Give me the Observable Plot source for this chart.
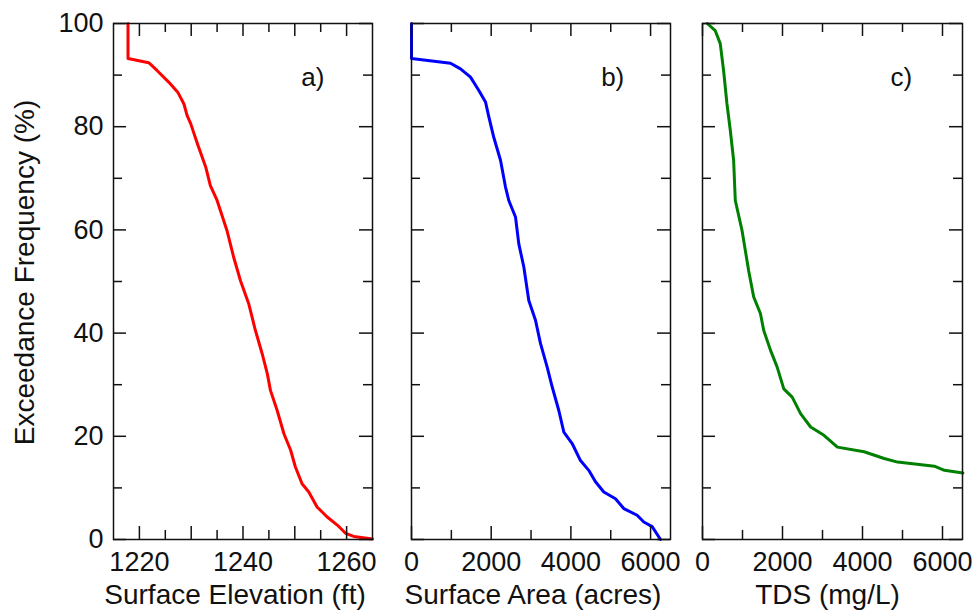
<!DOCTYPE html>
<html>
<head>
<meta charset="utf-8">
<script src="https://cdn.jsdelivr.net/npm/d3@7"></script>
<script src="https://cdn.jsdelivr.net/npm/@observablehq/plot@0.6"></script>
<style>
  body { margin: 0; background: #fff; }
  #chart { position: relative; width: 976px; height: 616px; font-family: "Liberation Sans", Arial, sans-serif; }
  #chart > div, #chart > svg { position: absolute; top: 0; }
</style>
</head>
<body>
<div id="chart"></div>
<script>
// ---- Data ----
// Panel a: Surface Elevation (ft) vs Exceedance Frequency (%)
const elevX = [1217.8, 1217.8, 1221.8, 1223.4, 1225.7, 1227.4, 1228.6, 1229.2, 1229.9, 1231.2, 1232.8, 1233.7, 1235.0, 1236.9, 1238.2, 1239.5, 1241.1, 1242.4, 1243.7, 1244.7, 1245.3, 1246.6, 1247.9, 1249.2, 1250.1, 1251.4, 1252.7, 1254.3, 1256.2, 1258.2, 1259.8, 1261.4, 1265];
const elevY = [100, 93.2, 92.4, 90.9, 88.6, 86.7, 84.4, 82.2, 80.6, 76.7, 72.2, 68.6, 65.7, 59.9, 54.7, 50.2, 45.7, 40.5, 36.0, 32.1, 28.9, 25.0, 20.5, 17.3, 14.1, 10.8, 9.2, 6.3, 4.4, 2.8, 1.2, 0.6, 0.1];
// Panel b: Surface Area (acres)
const areaX = [0, 0, 979, 1230, 1481, 1690, 1857, 1941, 2066, 2234, 2359, 2442, 2610, 2693, 2819, 2944, 3112, 3237, 3405, 3530, 3697, 3823, 4032, 4241, 4449, 4617, 4826, 5119, 5328, 5663, 5830, 6040, 6249];
const areaY = [100, 93.2, 92.3, 91.2, 89.6, 87.0, 84.8, 81.9, 77.9, 73.5, 68.3, 65.7, 62.5, 57.3, 52.8, 46.3, 42.5, 38.0, 33.4, 29.6, 25.0, 20.8, 18.6, 15.3, 13.4, 11.2, 9.2, 7.9, 6.0, 4.7, 3.4, 2.5, 0];
// Panel c: TDS (mg/L)
const tdsX = [120, 319, 444, 527, 612, 695, 778, 820, 988, 1154, 1280, 1448, 1531, 1699, 1867, 2032, 2243, 2452, 2703, 3037, 3373, 4040, 4542, 4877, 5797, 6048, 6510];
const tdsY = [100, 98.6, 96.1, 90.9, 84.4, 79.3, 73.5, 65.7, 59.9, 52.1, 47.0, 43.8, 40.5, 36.7, 33.4, 29.2, 27.6, 24.4, 21.8, 20.2, 17.9, 17.0, 15.7, 15.0, 14.2, 13.4, 12.9];

// Ticks
const yMajor = [0, 20, 40, 60, 80, 100];
const yMinor = [10, 30, 50, 70, 90];
const elevMajor = [1220, 1230, 1240, 1250, 1260];
const elevLabels = [1220, 1240, 1260];
const elevMinor = [1225, 1235, 1245, 1255];
const acreMajor = [0, 2000, 4000, 6000];
const acreMinor = [1000, 3000, 5000];

const FONT = '"Liberation Sans", Arial, sans-serif';
const TOP = 23, BOTTOM = 77, H = 616;
const FH = H - TOP - BOTTOM; // frame height
const MAJ = 13, MIN = 9;

function panel({left, width, ml, mr, xDomain, xs, ys, color, xMajor, xMinor, xLabels, title, titleDx, tag, tagX, showY}) {
  const fw = width - ml - mr;
  const data = xs.map((x, i) => ({x, y: ys[i]}));
  const marks = [
    Plot.line(data, {x: "x", y: "y", stroke: color, strokeWidth: 3, strokeLinejoin: "round"}),
    // inward ticks, x bottom/top
    Plot.tickX(xMajor, {x: d => d, stroke: "#111", strokeWidth: 1.5, insetTop: FH - MAJ}),
    Plot.tickX(xMajor, {x: d => d, stroke: "#111", strokeWidth: 1.5, insetBottom: FH - MAJ}),
    Plot.tickX(xMinor, {x: d => d, stroke: "#111", strokeWidth: 1.5, insetTop: FH - MIN}),
    Plot.tickX(xMinor, {x: d => d, stroke: "#111", strokeWidth: 1.5, insetBottom: FH - MIN}),
    // inward ticks, y left/right
    Plot.tickY(yMajor, {y: d => d, stroke: "#111", strokeWidth: 1.5, insetRight: fw - MAJ}),
    Plot.tickY(yMajor, {y: d => d, stroke: "#111", strokeWidth: 1.5, insetLeft: fw - MAJ}),
    Plot.tickY(yMinor, {y: d => d, stroke: "#111", strokeWidth: 1.5, insetRight: fw - MIN}),
    Plot.tickY(yMinor, {y: d => d, stroke: "#111", strokeWidth: 1.5, insetLeft: fw - MIN}),
    Plot.frame({stroke: "#111", strokeWidth: 1.5}),
    Plot.axisX(xLabels, {anchor: "bottom", tickSize: 0, tickPadding: 12, fontSize: 27, label: null, tickFormat: d => String(d), fill: "#111"}),
    Plot.text([title], {frameAnchor: "bottom", textAnchor: "middle", dy: 64, dx: titleDx, fontSize: 28, fill: "#111"}),
    Plot.text([tag], {x: tagX, y: 89.5, fontSize: 26, fill: "#111"})
  ];
  if (showY) {
    marks.push(Plot.axisY(yMajor, {anchor: "left", tickSize: 0, tickPadding: 10, fontSize: 27, label: null, fill: "#111"}));
    marks.push(Plot.text(["Exceedance Frequency (%)"], {frameAnchor: "left", textAnchor: "middle", rotate: -90, dx: -88, dy: -9, fontSize: 28, fill: "#111"}));
  }
  const svg = Plot.plot({
    width, height: H,
    marginLeft: ml, marginRight: mr, marginTop: TOP, marginBottom: BOTTOM,
    style: {fontFamily: FONT, background: "transparent", overflow: "visible"},
    x: {domain: xDomain, axis: null},
    y: {domain: [0, 100], axis: null},
    marks
  });
  svg.style.left = left + "px";
  return svg;
}

const chart = document.getElementById("chart");
chart.append(panel({left: 0, width: 380, ml: 113, mr: 8, xDomain: [1215, 1265], xs: elevX, ys: elevY, color: "#ff0000",
  xMajor: elevMajor, xMinor: elevMinor, xLabels: elevLabels, title: "Surface Elevation (ft)", titleDx: -8, tag: "a)", tagX: 1253.5, showY: true}));
chart.append(panel({left: 380, width: 300, ml: 31, mr: 10, xDomain: [0, 6500], xs: areaX, ys: areaY, color: "#0000ff",
  xMajor: acreMajor, xMinor: acreMinor, xLabels: acreMajor, title: "Surface Area (acres)", titleDx: -8, tag: "b)", tagX: 5050, showY: false}));
chart.append(panel({left: 680, width: 296, ml: 22, mr: 14, xDomain: [0, 6500], xs: tdsX, ys: tdsY, color: "#008000",
  xMajor: acreMajor, xMinor: acreMinor, xLabels: acreMajor, title: "TDS (mg/L)", titleDx: -5, tag: "c)", tagX: 4970, showY: false}));
</script>
</body>
</html>
